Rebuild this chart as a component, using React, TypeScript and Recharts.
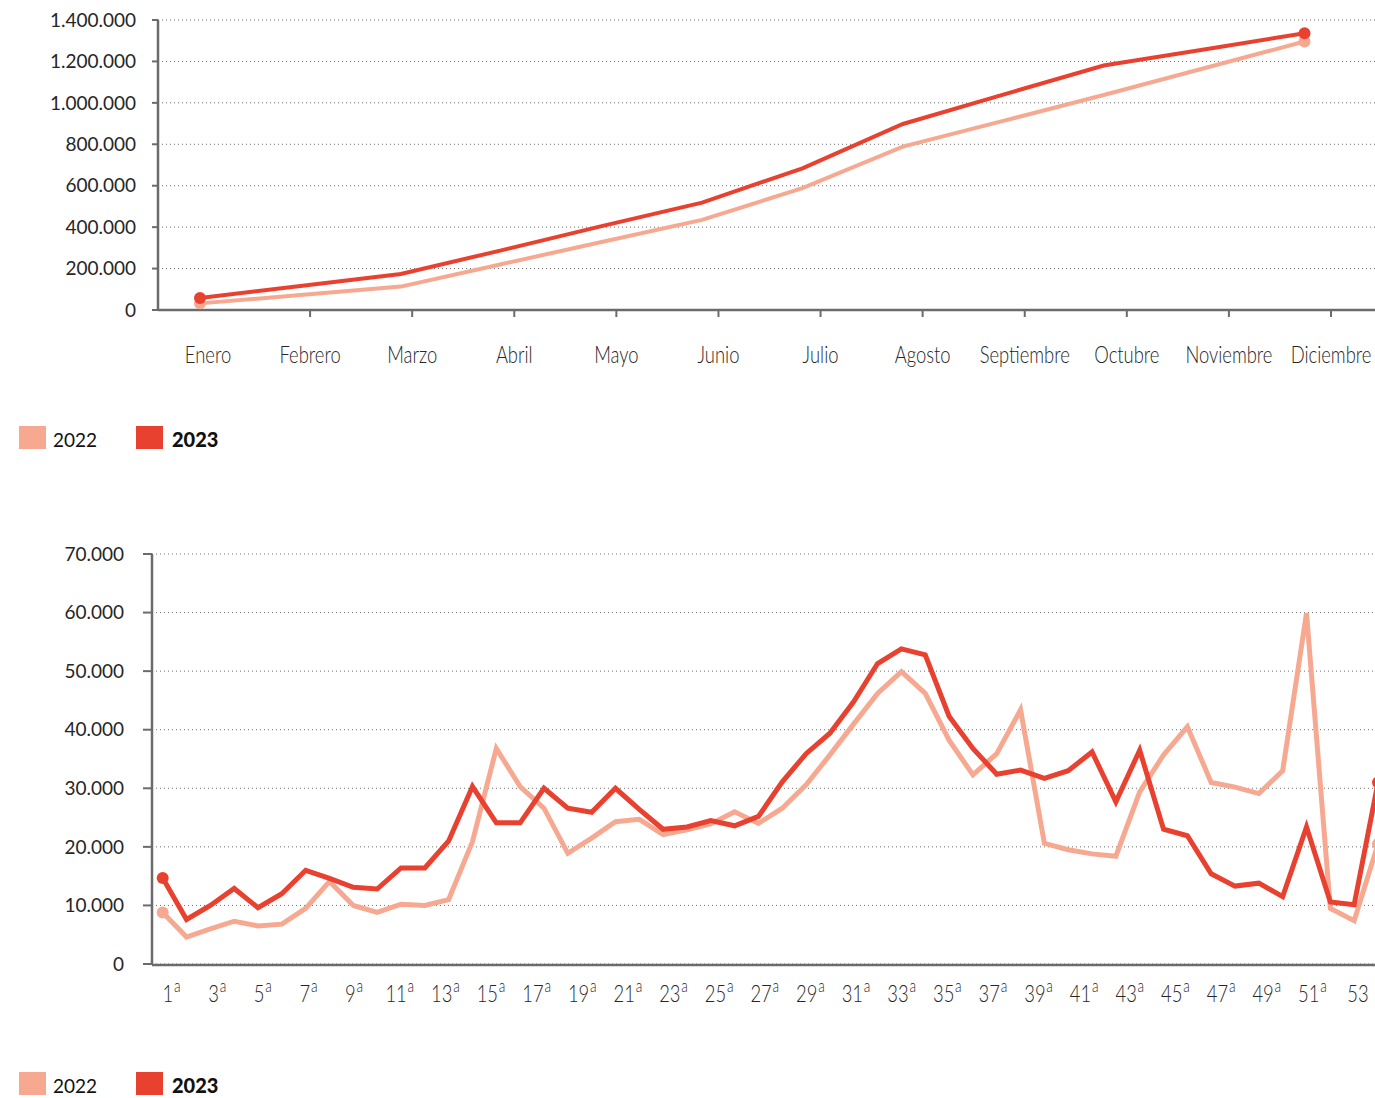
import React from 'react';
import { LineChart, Line, XAxis, YAxis, CartesianGrid } from 'recharts';

// ---------- Data ----------
const months = ['Enero', 'Febrero', 'Marzo', 'Abril', 'Mayo', 'Junio', 'Julio', 'Agosto', 'Septiembre', 'Octubre', 'Noviembre', 'Diciembre'];
const cumulative2022 = [32000, 72000, 113000, 221000, 328000, 435000, 588000, 789000, 913000, 1038000, 1167000, 1296000];
const cumulative2023 = [58000, 116000, 174000, 288000, 405000, 518000, 684000, 898000, 1040000, 1180000, 1258000, 1336000];
const cumulativeTicks = [0, 200000, 400000, 600000, 800000, 1000000, 1200000, 1400000];

const weeks = [1, 2, 3, 4, 5, 6, 7, 8, 9, 10, 11, 12, 13, 14, 15, 16, 17, 18, 19, 20, 21, 22, 23, 24, 25, 26, 27, 28, 29, 30, 31, 32, 33, 34, 35, 36, 37, 38, 39, 40, 41, 42, 43, 44, 45, 46, 47, 48, 49, 50, 51, 52];
const weekly2022 = [8800, 4600, 6000, 7300, 6500, 6800, 9500, 14100, 10000, 8800, 10200, 10000, 11000, 20900, 36800, 30300, 26600, 18900, 21500, 24300, 24700, 22100, 22900, 23900, 26000, 24000, 26600, 30600, 35700, 41000, 46200, 49900, 46200, 38200, 32300, 35900, 43400, 20600, 19500, 18800, 18400, 29400, 35700, 40500, 31000, 30200, 29100, 33000, 59900, 9500, 7400, 20500];
const weekly2023 = [14700, 7600, 10000, 12900, 9600, 12000, 16000, 14600, 13100, 12800, 16400, 16400, 21000, 30300, 24100, 24100, 30000, 26600, 25900, 30000, 26400, 23000, 23400, 24500, 23600, 25200, 31100, 35900, 39400, 44800, 51300, 53800, 52800, 42300, 36800, 32400, 33100, 31700, 33000, 36200, 27700, 36500, 23000, 21900, 15400, 13300, 13800, 11500, 23400, 10600, 10100, 31000];
const weekLabelTicks = [1, 3, 5, 7, 9, 11, 13, 15, 17, 19, 21, 23, 25, 27, 29, 31, 33, 35, 37, 39, 41, 43, 45, 47, 49, 51, 53];
const weeklyTicks = [0, 10000, 20000, 30000, 40000, 50000, 60000, 70000];
const tickMarkSlots = [0, 1, 2, 3, 4, 5, 6, 7, 8, 9, 10, 11, 12, 13, 14, 15, 16, 17, 18, 19, 20, 21, 22, 23, 24, 25, 26, 27, 28, 29, 30, 31, 32, 33, 34, 35, 36, 37, 38, 39, 40, 41, 42, 43, 44, 45, 46, 47];

const series = ['2022', '2023'];

const monthlyData = months.map((m, i) => ({ month: m, y2022: cumulative2022[i], y2023: cumulative2023[i] }));
const weeklyData = weeks.map((w, i) => ({ week: w, y2022: weekly2022[i], y2023: weekly2023[i] }));

// ---------- Styles ----------
const C2022 = '#F6A990';
const C2023 = '#E8412F';
const AXIS = '#6b6b6b';
const TEXT = '#262626';

const fmt = (v: number) => (v === 0 ? '0' : v.toLocaleString('de-DE'));

const endDots = (color: string, r: number, last: number) => (props: any) => {
  const { cx, cy, index } = props;
  if (index !== 0 && index !== last) return <g key={`d${index}`} />;
  return <circle key={`d${index}`} cx={cx} cy={cy} r={r} fill={color} />;
};

const MonthTick = (props: any) => {
  const { x, payload, index, axisY } = props;
  return (
    <g>
      {index > 0 && <line x1={x} y1={axisY} x2={x} y2={axisY + 7} stroke={AXIS} strokeWidth={2} />}
      <g transform={`translate(${x},${axisY + 53}) scale(0.8,1)`}>
        <text textAnchor="middle" fontFamily="Lato" fontWeight={300} fontSize={23} fill={TEXT}>
          {payload.value}
        </text>
      </g>
    </g>
  );
};

const WeekTick = (props: any) => {
  const { x, payload, axisY } = props;
  const v = payload.value;
  return (
    <g transform={`translate(${x},${axisY + 38}) scale(0.8,1)`}>
      <text textAnchor="middle" fontFamily="Lato" fontWeight={300} fontSize={23} fill={TEXT}>
        {v}
        {v < 53 ? (
          <tspan dx={1} dy={-10} fontSize={17}>
            a
          </tspan>
        ) : null}
      </text>
    </g>
  );
};

const Legend = ({ top }: { top: number }) => (
  <svg width={300} height={40} style={{ position: 'absolute', left: 0, top }}>
    <rect x={19} y={4} width={27} height={23} fill={C2022} />
    <text x={53} y={25} fontFamily="Lato" fontSize={19} fill="#111">
      {series[0]}
    </text>
    <rect x={136} y={4} width={27} height={23} fill={C2023} />
    <text x={172} y={25} fontFamily="Lato" fontWeight={900} fontSize={20} fill="#111">
      {series[1]}
    </text>
  </svg>
);

export default function App() {
  return (
    <div style={{ position: 'absolute', left: 0, top: 0, width: 1375, height: 1098, overflow: 'hidden', background: '#fff' }}>
      {/* Top chart: cumulative */}
      <div style={{ position: 'absolute', left: 0, top: 0 }}>
        <LineChart width={1410} height={381} data={monthlyData} margin={{ top: 20, right: 10, bottom: 70, left: 0 }}>
          <CartesianGrid vertical={false} stroke="#6f6f6f" strokeDasharray="1 3" />
          <XAxis dataKey="month" type="category" scale="point" hide height={0} padding={{ left: 42, right: 95.5 }} />
          <XAxis
            xAxisId="labels"
            dataKey="month"
            type="category"
            scale="point"
            height={1}
            interval={0}
            padding={{ left: 50, right: 69 }}
            axisLine={{ stroke: AXIS, strokeWidth: 2.5 }}
            tickLine={false}
            tick={<MonthTick axisY={310} />}
          />
          <YAxis
            width={158}
            domain={[0, 1400000]}
            ticks={cumulativeTicks}
            interval={0}
            tickFormatter={fmt}
            axisLine={{ stroke: AXIS, strokeWidth: 2.5 }}
            tickLine={{ stroke: AXIS, strokeWidth: 2 }}
            tickSize={6}
            tickMargin={16}
            tick={{ fontFamily: 'Lato', fontSize: 19, fill: TEXT }}
          />
          <Line dataKey="y2022" name={series[0]} stroke={C2022} strokeWidth={4} dot={endDots(C2022, 6, months.length - 1)} activeDot={false} isAnimationActive={false} />
          <Line dataKey="y2023" name={series[1]} stroke={C2023} strokeWidth={4} dot={endDots(C2023, 6, months.length - 1)} activeDot={false} isAnimationActive={false} />
        </LineChart>
      </div>
      <Legend top={422} />

      {/* Bottom chart: weekly */}
      <div style={{ position: 'absolute', left: 0, top: 534 }}>
        <LineChart width={1410} height={492} data={weeklyData} margin={{ top: 20, right: 10, bottom: 60, left: 0 }}>
          <CartesianGrid vertical={false} stroke="#6f6f6f" strokeDasharray="1 3" />
          <XAxis dataKey="week" type="number" domain={[1, 52]} hide height={0} padding={{ left: 10.7, right: 22 }} />
          <XAxis
            xAxisId="marks"
            dataKey="week"
            type="number"
            domain={[0, 47]}
            allowDataOverflow
            ticks={tickMarkSlots}
            interval={0}
            height={1}
            padding={{ left: 22, right: 17.6 }}
            axisLine={{ stroke: AXIS, strokeWidth: 2.5 }}
            tickLine={{ stroke: AXIS, strokeWidth: 2 }}
            tickSize={7}
            tick={false}
          />
          <XAxis
            xAxisId="labels"
            dataKey="week"
            type="number"
            domain={[1, 53]}
            allowDataOverflow
            ticks={weekLabelTicks}
            interval={0}
            height={1}
            padding={{ left: 19.6, right: 42 }}
            axisLine={false}
            tickLine={false}
            tick={<WeekTick axisY={430} />}
          />
          <YAxis
            width={152}
            domain={[0, 70000]}
            ticks={weeklyTicks}
            interval={0}
            tickFormatter={fmt}
            axisLine={{ stroke: AXIS, strokeWidth: 2.5 }}
            tickLine={{ stroke: AXIS, strokeWidth: 2 }}
            tickSize={9}
            tickMargin={19}
            tick={{ fontFamily: 'Lato', fontSize: 19, fill: TEXT }}
          />
          <Line dataKey="y2022" name={series[0]} stroke={C2022} strokeWidth={5} dot={endDots(C2022, 6, weeks.length - 1)} activeDot={false} isAnimationActive={false} />
          <Line dataKey="y2023" name={series[1]} stroke={C2023} strokeWidth={5} dot={endDots(C2023, 6, weeks.length - 1)} activeDot={false} isAnimationActive={false} />
        </LineChart>
      </div>
      <Legend top={1068} />
    </div>
  );
}
